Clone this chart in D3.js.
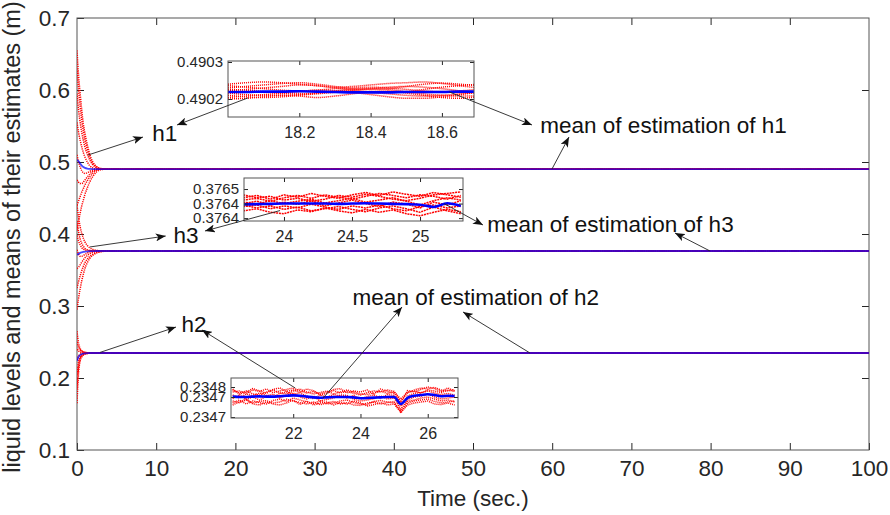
<!DOCTYPE html>
<html>
<head>
<meta charset="utf-8">
<script src="https://cdn.jsdelivr.net/npm/d3@7"></script>
<style>
body { margin: 0; background: #fff; }
text { font-family: "Liberation Sans", Arial, sans-serif; }
</style>
</head>
<body>
<script>
// ---------- data ----------
// main plot: sample times of the transient (sec.)
const tTrans = [0, 0.2, 0.4, 0.6, 0.8, 1.0, 1.3, 1.6, 2.0, 2.5, 3.0, 4.0, 100];

// estimates of h1 (m)
const h1Est = [
  [0.655, 0.620, 0.595, 0.572, 0.553, 0.540, 0.524, 0.511, 0.500, 0.4935, 0.4910, 0.4903, 0.4902],
  [0.630, 0.600, 0.577, 0.558, 0.543, 0.531, 0.518, 0.507, 0.498, 0.4928, 0.4907, 0.4903, 0.4902],
  [0.595, 0.572, 0.555, 0.541, 0.530, 0.521, 0.511, 0.503, 0.496, 0.4920, 0.4905, 0.4902, 0.4902],
  [0.555, 0.541, 0.530, 0.521, 0.513, 0.507, 0.500, 0.495, 0.4918, 0.4905, 0.4902, 0.4902, 0.4902],
  [0.510, 0.500, 0.493, 0.488, 0.485, 0.484, 0.485, 0.487, 0.4888, 0.4898, 0.4901, 0.4902, 0.4902],
  [0.475, 0.472, 0.470, 0.470, 0.472, 0.475, 0.479, 0.483, 0.4870, 0.4893, 0.4900, 0.4902, 0.4902],
  [0.440, 0.446, 0.452, 0.458, 0.463, 0.468, 0.474, 0.479, 0.4845, 0.4885, 0.4898, 0.4902, 0.4902],
  [0.405, 0.418, 0.429, 0.439, 0.447, 0.455, 0.464, 0.472, 0.4800, 0.4865, 0.4893, 0.4901, 0.4902]
];
const h1Mean = [0.503, 0.501, 0.498, 0.495, 0.493, 0.4918, 0.4908, 0.4904, 0.4902, 0.4902, 0.4902, 0.4902, 0.4902];

// estimates of h3 (m)
const h3Est = [
  [0.440, 0.423, 0.410, 0.401, 0.394, 0.389, 0.384, 0.381, 0.3785, 0.3772, 0.3766, 0.3764, 0.3764],
  [0.418, 0.403, 0.393, 0.387, 0.383, 0.380, 0.3783, 0.3772, 0.3766, 0.3764, 0.3764, 0.3764, 0.3764],
  [0.398, 0.390, 0.385, 0.381, 0.379, 0.3778, 0.3770, 0.3767, 0.3765, 0.3764, 0.3764, 0.3764, 0.3764],
  [0.378, 0.372, 0.369, 0.369, 0.370, 0.3715, 0.3735, 0.3750, 0.3758, 0.3762, 0.3764, 0.3764, 0.3764],
  [0.352, 0.354, 0.357, 0.361, 0.364, 0.367, 0.370, 0.3725, 0.3745, 0.3757, 0.3762, 0.3764, 0.3764],
  [0.325, 0.334, 0.342, 0.349, 0.355, 0.360, 0.365, 0.369, 0.372, 0.3745, 0.3758, 0.3763, 0.3764],
  [0.295, 0.311, 0.324, 0.335, 0.344, 0.352, 0.360, 0.366, 0.3705, 0.3737, 0.3753, 0.3762, 0.3764]
];
const h3Mean = [0.371, 0.3725, 0.3738, 0.3746, 0.3752, 0.3756, 0.3760, 0.3762, 0.3763, 0.3764, 0.3764, 0.3764, 0.3764];

// estimates of h2 (m)
const h2Est = [
  [0.265, 0.248, 0.241, 0.238, 0.2365, 0.2358, 0.2352, 0.2349, 0.2348, 0.2347, 0.2347, 0.2347, 0.2347],
  [0.250, 0.242, 0.2385, 0.2368, 0.2360, 0.2355, 0.2350, 0.2348, 0.2347, 0.2347, 0.2347, 0.2347, 0.2347],
  [0.240, 0.2375, 0.2360, 0.2354, 0.2350, 0.2349, 0.2348, 0.2347, 0.2347, 0.2347, 0.2347, 0.2347, 0.2347],
  [0.225, 0.2305, 0.2328, 0.2338, 0.2342, 0.2344, 0.2346, 0.2347, 0.2347, 0.2347, 0.2347, 0.2347, 0.2347],
  [0.205, 0.2225, 0.2290, 0.2318, 0.2331, 0.2338, 0.2343, 0.2345, 0.2347, 0.2347, 0.2347, 0.2347, 0.2347],
  [0.185, 0.2155, 0.2265, 0.2305, 0.2324, 0.2334, 0.2341, 0.2344, 0.2346, 0.2347, 0.2347, 0.2347, 0.2347],
  [0.165, 0.2075, 0.2235, 0.2292, 0.2318, 0.2331, 0.2340, 0.2344, 0.2346, 0.2347, 0.2347, 0.2347, 0.2347]
];
const h2Mean = [0.224, 0.2295, 0.2320, 0.2333, 0.2340, 0.2343, 0.2346, 0.2347, 0.2347, 0.2347, 0.2347, 0.2347, 0.2347];

const xTicks = [0, 10, 20, 30, 40, 50, 60, 70, 80, 90, 100];
const yTicks = [0.1, 0.2, 0.3, 0.4, 0.5, 0.6, 0.7];

// inset 1 (h1): deviations in micrometres from 0.4902 m
const in1Base = 0.4902;
const in1Time = [18.00, 18.05, 18.10, 18.15, 18.20, 18.25, 18.30, 18.35, 18.40, 18.45, 18.50, 18.55, 18.60, 18.65, 18.70];
const in1Est = [
  [30, 34, 38, 42, 44, 40, 34, 28, 26, 28, 34, 40, 43, 40, 36],
  [10, 6, 4, 6, 10, 14, 18, 20, 18, 14, 10, 8, 10, 14, 18],
  [22, 26, 30, 34, 38, 36, 30, 24, 20, 18, 20, 26, 32, 36, 40],
  [16, 12, 10, 10, 12, 16, 22, 26, 28, 26, 20, 14, 10, 8, 8],
  [26, 24, 20, 16, 14, 16, 20, 24, 28, 32, 34, 32, 28, 22, 18],
  [4, 8, 12, 16, 20, 24, 22, 18, 12, 6, 2, 2, 6, 12, 18],
  [36, 32, 28, 24, 22, 24, 28, 30, 32, 30, 26, 22, 20, 22, 26],
  [40, 44, 46, 44, 40, 36, 32, 34, 38, 42, 44, 46, 42, 36, 30],
  [0, 2, 6, 10, 8, 4, 8, 14, 20, 22, 16, 10, 4, 2, 6]
];
const in1Mean = [19, 19, 20, 20, 21, 20, 19, 18, 18, 18, 19, 19, 19, 20, 20];
const in1XTicks = [18.2, 18.4, 18.6];
const in1YTicks = [0.4902, 0.4903];
const in1YLabels = ["0.4902", "0.4903"];

// inset 3 (h3): deviations in micrometres from 0.3764 m
const in3Base = 0.3764;
const in3Time = [23.7, 23.8, 23.9, 24.0, 24.1, 24.2, 24.3, 24.4, 24.5, 24.6, 24.7, 24.8, 24.9, 25.0, 25.1, 25.2, 25.3];
const in3Est = [
  [20, 28, 15, 30, 22, 35, 25, 18, 30, 38, 28, 40, 32, 25, 38, 30, 22],
  [-10, -5, -18, -8, -15, -2, -12, -20, -8, -15, -5, -18, -25, -10, -5, -15, -8],
  [5, -2, 10, 0, 8, 15, 2, 10, 18, 5, 12, 20, 8, -5, 10, 20, 12],
  [-25, -18, -30, -35, -22, -28, -15, -25, -32, -20, -30, -22, -35, -42, -30, -20, -28],
  [12, 18, 8, 20, 28, 18, 30, 22, 15, 25, 35, 28, 20, 30, 25, 15, 28],
  [-5, -15, -8, -20, -12, -25, -18, -10, -20, -28, -15, -8, -18, -30, -12, -25, -35],
  [0, 8, -5, 5, -3, 10, -8, 2, 12, 0, -10, 5, -2, -15, 5, -5, 10],
  [30, 20, 25, 12, 18, 8, 15, 28, 22, 32, 25, 15, 10, 18, 30, 35, 40]
];
const in3Mean = [-3, -2, -1, 0, 0, 0, 0, -1, 0, 1, 0, -1, -2, -4, -12, 1, -8];
const in3XTicks = [24, 24.5, 25];
const in3YTicks = [0.37635, 0.3764, 0.37645];
const in3YLabels = ["0.3764", "0.3764", "0.3765"];

// inset 2 (h2): deviations in micrometres from 0.2347 m
const in2Base = 0.2347;
const in2Time = [20.2, 20.4, 20.6, 20.8, 21.0, 21.2, 21.4, 21.6, 21.8, 22.0, 22.2, 22.4, 22.6, 22.8, 23.0, 23.2, 23.4,
  23.6, 23.8, 24.0, 24.2, 24.4, 24.6, 24.8, 25.0, 25.2, 25.4, 25.6, 25.8, 26.0, 26.2, 26.4, 26.6, 26.8];
const in2Est = [
  [25, 30, 18, 35, 28, 40, 22, 30, 38, 45, 30, 20, 28, 15, 25, 32, 20, 28, 18, 10, 22, 30, 25, 35, 28, -20, 20, 35, 45, 40, 48, 35, 30, 38],
  [-20, -28, -15, -30, -22, -18, -30, -25, -12, -20, -28, -35, -25, -38, -30, -22, -35, -28, -40, -42, -30, -25, -35, -28, -22, -80, -30, -20, -15, -10, -22, -30, -25, -20],
  [10, -5, 15, 5, 20, 8, -2, 18, 25, 12, 20, 5, -8, 10, 0, 12, 5, -5, 8, -10, 2, 10, -5, 12, 8, -45, 5, 18, 22, 30, 20, 12, 18, 10],
  [-8, 12, -12, 0, -15, 5, 15, -5, 8, 20, 0, -10, 5, -20, -12, -5, 10, 8, -12, -20, -15, -8, 5, -10, -5, -60, -15, 0, 5, 15, 0, -10, -5, 0],
  [35, 20, 30, 15, 10, 25, 35, 20, 15, 30, 40, 25, 15, 22, 30, 15, 25, 35, 25, 15, 12, 20, 30, 18, 25, -10, 25, 30, 20, 35, 30, 22, 35, 28],
  [-30, -15, -35, -20, -28, -35, -18, -10, -22, -5, -15, -25, -32, -18, -35, -30, -20, -15, -28, -35, -38, -22, -18, -25, -30, -70, -22, -15, -5, 0, -10, -20, -15, -25],
  [40, 15, 25, 42, 30, 18, 38, 45, 28, 35, 22, 40, 32, 10, 18, 38, 42, 20, 30, 25, 35, 15, 40, 28, 18, -30, 32, 25, 38, 50, 42, 28, 45, 30],
  [-40, -25, -10, -35, -40, -25, -35, -40, -30, -15, -38, -20, -40, -30, -25, -40, -28, -35, -20, -30, -45, -38, -28, -40, -35, -75, -40, -30, -25, -20, -35, -38, -30, -40]
];
const in2Mean = [2, 0, 0, 2, 3, 2, 2, 4, 6, 8, 6, 2, -2, -4, -2, 0, 0, 0, -2, -6, -5, -3, -2, 0, 0, -35, -4, 6, 10, 14, 10, 4, 6, 5];
const in2XTicks = [22, 24, 26];
const in2YTicks = [0.2346, 0.2347, 0.23475];
const in2YLabels = ["0.2347", "0.2347", "0.2348"];

// annotation labels, in main data coordinates [time, level]
const labels = [
  {text: "h1", at: [9.5, 0.529]},
  {text: "h3", at: [12.2, 0.3875]},
  {text: "h2", at: [13.2, 0.2639]},
  {text: "mean of estimation of h1", at: [58.5, 0.5403]},
  {text: "mean of estimation of h3", at: [51.8, 0.4028]},
  {text: "mean of estimation of h2", at: [34.8, 0.3014]}
];

// ---------- layout ----------
const width = 890, height = 515;
const margin = {top: 18, right: 21, bottom: 65, left: 77};
const axisCol = "#262626";
const mainFont = "22.5px";

const svg = d3.select("body").append("svg")
  .attr("width", width).attr("height", height);

const defs = svg.append("defs");
defs.append("marker")
  .attr("id", "head")
  .attr("markerUnits", "userSpaceOnUse")
  .attr("viewBox", "0 0 10 8")
  .attr("markerWidth", 10).attr("markerHeight", 8)
  .attr("refX", 10).attr("refY", 4)
  .attr("orient", "auto")
  .append("path")
  .attr("d", "M0,0 L10,4 L0,8 L2.5,4 Z")
  .attr("fill", "#111");

const x = d3.scaleLinear().domain([0, 100]).range([margin.left, width - margin.right]);
const y = d3.scaleLinear().domain([0.1, 0.7]).range([height - margin.bottom, margin.top]);

defs.append("clipPath").attr("id", "clipMain").append("rect")
  .attr("x", x(0)).attr("y", y(0.7))
  .attr("width", x(100) - x(0)).attr("height", y(0.1) - y(0.7));

// ---------- main axes ----------
const fmt1 = d3.format(".1f");
svg.append("g")
  .attr("transform", `translate(0,${y(0.1)})`)
  .call(d3.axisBottom(x).tickValues(xTicks).tickSize(-7).tickPadding(10))
  .call(g => g.select(".domain").remove());
svg.append("g")
  .attr("transform", `translate(0,${y(0.7)})`)
  .call(d3.axisTop(x).tickValues(xTicks.slice(1, -1)).tickSize(-7).tickFormat(""))
  .call(g => g.select(".domain").remove());
svg.append("g")
  .attr("transform", `translate(${x(0)},0)`)
  .call(d3.axisLeft(y).tickValues(yTicks).tickSize(-7).tickPadding(7).tickFormat(fmt1))
  .call(g => g.select(".domain").remove());
svg.append("g")
  .attr("transform", `translate(${x(100)},0)`)
  .call(d3.axisRight(y).tickValues(yTicks.slice(1, -1)).tickSize(-7).tickFormat(""))
  .call(g => g.select(".domain").remove());

svg.selectAll(".tick line").attr("stroke", axisCol);
svg.selectAll(".tick text").attr("fill", axisCol).style("font-size", mainFont)
  .style("font-family", "'Liberation Sans', Arial, sans-serif");

svg.append("rect")
  .attr("x", x(0)).attr("y", y(0.7))
  .attr("width", x(100) - x(0)).attr("height", y(0.1) - y(0.7))
  .attr("fill", "none").attr("stroke", "#555").attr("stroke-width", 1);

svg.append("text")
  .attr("transform", `translate(20,${(y(0.1) + y(0.7)) / 2 + 3}) rotate(-90)`)
  .attr("text-anchor", "middle")
  .style("font-size", "23.5px").attr("fill", axisCol)
  .text("liquid levels and means of their estimates (m)");

svg.append("text")
  .attr("x", (x(0) + x(100)) / 2).attr("y", 506)
  .attr("text-anchor", "middle")
  .style("font-size", mainFont).attr("fill", axisCol)
  .text("Time (sec.)");

// ---------- main traces ----------
const line = d3.line()
  .x(d => x(d[0])).y(d => y(d[1]))
  .curve(d3.curveMonotoneX);

const plot = svg.append("g").attr("clip-path", "url(#clipMain)");

const groups = [
  {est: h1Est, mean: h1Mean},
  {est: h3Est, mean: h3Mean},
  {est: h2Est, mean: h2Mean}
];
groups.forEach(gr => {
  gr.est.forEach(vals => {
    plot.append("path")
      .datum(vals.map((v, i) => [tTrans[i], v]))
      .attr("d", line)
      .attr("fill", "none").attr("stroke", "#ff0000")
      .attr("stroke-width", 1.5).attr("stroke-dasharray", "1.2,1");
  });
});
groups.forEach(gr => {
  plot.append("path")
    .datum(gr.mean.map((v, i) => [tTrans[i], v]))
    .attr("d", line)
    .attr("fill", "none").attr("stroke", "#0000ff")
    .attr("stroke-opacity", 0.72)
    .attr("stroke-width", 1.8);
});

// ---------- insets ----------
function makeInset(o) {
  const ix = d3.scaleLinear().domain(o.xDomain).range([o.box[0], o.box[2]]);
  const iy = d3.scaleLinear().domain(o.yDomain).range([o.box[3], o.box[1]]);
  const g = svg.append("g");
  g.append("rect")
    .attr("x", o.box[0]).attr("y", o.box[1])
    .attr("width", o.box[2] - o.box[0]).attr("height", o.box[3] - o.box[1])
    .attr("fill", "#fff");

  const cid = "clip" + o.id;
  defs.append("clipPath").attr("id", cid).append("rect")
    .attr("x", o.box[0]).attr("y", o.box[1])
    .attr("width", o.box[2] - o.box[0]).attr("height", o.box[3] - o.box[1]);
  const inner = g.append("g").attr("clip-path", `url(#${cid})`);

  const ln = d3.line().x(d => ix(d[0])).y(d => iy(d[1])).curve(o.curve);
  o.est.forEach(vals => {
    inner.append("path")
      .datum(vals.map((v, i) => [o.time[i], o.base + v * 1e-6]))
      .attr("d", ln)
      .attr("fill", "none").attr("stroke", "#ff0000")
      .attr("stroke-width", 1.5).attr("stroke-dasharray", o.dash);
  });
  inner.append("path")
    .datum(o.mean.map((v, i) => [o.time[i], o.base + v * 1e-6]))
    .attr("d", d3.line().x(d => ix(d[0])).y(d => iy(d[1])).curve(d3.curveMonotoneX))
    .attr("fill", "none").attr("stroke", "#0000ff").attr("stroke-width", 2.6);

  g.append("g").attr("class", "ix").attr("transform", `translate(0,${o.box[3]})`)
    .call(d3.axisBottom(ix).tickValues(o.xTicks).tickSize(-4).tickPadding(10).tickFormat(d => String(d)))
    .call(a => a.select(".domain").remove());
  g.append("g").attr("transform", `translate(0,${o.box[1]})`)
    .call(d3.axisTop(ix).tickValues(o.xTicks).tickSize(-4).tickFormat(""))
    .call(a => a.select(".domain").remove());
  g.append("g").attr("class", "iy").attr("transform", `translate(${o.box[0]},0)`)
    .call(d3.axisLeft(iy).tickValues(o.yTicks).tickSize(-4).tickPadding(5)
      .tickFormat((d, i) => o.yLabels[i]))
    .call(a => a.select(".domain").remove());
  g.append("g").attr("transform", `translate(${o.box[2]},0)`)
    .call(d3.axisRight(iy).tickValues(o.yTicks).tickSize(-4).tickFormat(""))
    .call(a => a.select(".domain").remove());
  g.selectAll(".tick line").attr("stroke", axisCol);
  g.selectAll(".tick text").attr("fill", axisCol)
    .style("font-family", "'Liberation Sans', Arial, sans-serif");
  g.selectAll(".ix .tick text").style("font-size", "16px");
  g.selectAll(".iy .tick text").style("font-size", "15px");
  g.append("rect")
    .attr("x", o.box[0]).attr("y", o.box[1])
    .attr("width", o.box[2] - o.box[0]).attr("height", o.box[3] - o.box[1])
    .attr("fill", "none").attr("stroke", "#555").attr("stroke-width", 1);
  return {x: ix, y: iy};
}

const in1 = makeInset({
  id: 1, box: [228, 61, 474, 117],
  xDomain: [18.0, 18.69], yDomain: [0.4901514, 0.4903027],
  time: in1Time, est: in1Est, mean: in1Mean, base: in1Base,
  xTicks: in1XTicks, yTicks: in1YTicks, yLabels: in1YLabels,
  curve: d3.curveMonotoneX, dash: "1,1"
});
const in3 = makeInset({
  id: 3, box: [244, 178, 463, 221],
  xDomain: [23.706, 25.316], yDomain: [0.37634, 0.376488],
  time: in3Time, est: in3Est, mean: in3Mean, base: in3Base,
  xTicks: in3XTicks, yTicks: in3YTicks, yLabels: in3YLabels,
  curve: d3.curveLinear, dash: "2,0.8"
});
const in2 = makeInset({
  id: 2, box: [231, 378, 458, 418],
  xDomain: [20.15, 26.9], yDomain: [0.234595, 0.234795],
  time: in2Time, est: in2Est, mean: in2Mean, base: in2Base,
  xTicks: in2XTicks, yTicks: in2YTicks, yLabels: in2YLabels,
  curve: d3.curveLinear, dash: "1,1"
});

// ---------- annotations ----------
const main = {x: x, y: y};
const arrows = [
  {from: [main, 1.39, 0.5097], to: [8.33, 0.5347]},
  {from: [in1, 18.056, 0.490203], to: [12.63, 0.5514]},
  {from: [in1, 18.621, 0.490219], to: [57.45, 0.5514]},
  {from: [main, 59.97, 0.4902], to: [62.12, 0.5347]},
  {from: [main, 1.64, 0.382], to: [11.2, 0.3972]},
  {from: [in3, 23.971, 0.376376], to: [16.16, 0.4042]},
  {from: [in3, 25.177, 0.3764], to: [51.26, 0.4125]},
  {from: [main, 79.92, 0.3764], to: [75.5, 0.4014]},
  {from: [main, 2.9, 0.2355], to: [12.5, 0.2708]},
  {from: [in2, 22.06, 0.234745], to: [15.78, 0.2667]},
  {from: [in2, 22.89, 0.234695], to: [41.04, 0.2986]},
  {from: [main, 57.2, 0.2347], to: [48.74, 0.2917]}
];
svg.append("g").selectAll("line").data(arrows).join("line")
  .attr("x1", d => d.from[0].x(d.from[1]))
  .attr("y1", d => d.from[0].y(d.from[2]))
  .attr("x2", d => x(d.to[0]))
  .attr("y2", d => y(d.to[1]))
  .attr("stroke", "#222").attr("stroke-width", 0.9)
  .attr("marker-end", "url(#head)");

svg.append("g").selectAll("text").data(labels).join("text")
  .attr("x", d => x(d.at[0]))
  .attr("y", d => y(d.at[1]))
  .style("font-size", mainFont)
  .attr("fill", "#111")
  .text(d => d.text);
</script>
</body>
</html>
